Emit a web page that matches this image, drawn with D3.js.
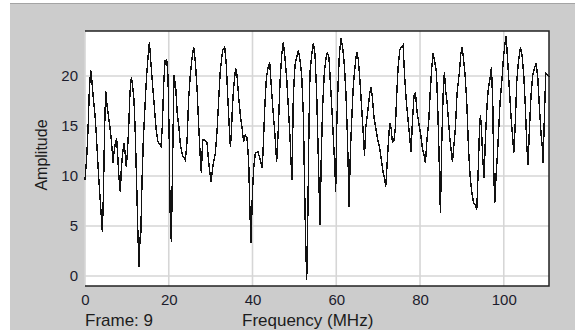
<!DOCTYPE html>
<html>
<head>
<meta charset="utf-8">
<script src="https://cdn.jsdelivr.net/npm/d3@7"></script>
<style>
  html, body { margin: 0; padding: 0; background: #ffffff; }
  svg { display: block; }
</style>
</head>
<body>
<div id="chart"></div>
<script>
// frequency samples (MHz)
const freq = [
  0, 0.40, 0.72, 1.04, 1.35, 1.67, 1.99, 2.39, 2.71, 3.03, 3.34, 3.66, 3.98, 4.14, 4.38, 4.70, 4.94,
  5.25, 5.57, 5.89, 6.21, 6.53, 6.69, 6.93, 7.25, 7.56, 7.80, 8.12, 8.44, 8.68, 9.00, 9.32, 9.63,
  9.87, 10.11, 10.43, 10.75, 11.07, 11.39, 11.70, 12.02, 12.34, 12.66, 12.90, 13.14, 13.30, 13.61,
  13.93, 14.33, 14.65, 14.97, 15.37, 15.76, 16.16, 16.56, 16.96, 17.36, 17.75, 18.15, 18.47, 18.79,
  19.11, 19.51, 19.82, 20.14, 20.30, 20.62, 20.94, 21.26, 21.66, 22.05, 22.37, 22.77, 23.24, 23.96,
  24.36, 24.76, 25.15, 25.55, 25.95, 26.35, 26.75, 27.14, 27.54, 27.78, 28.10, 28.50, 29.14, 29.53,
  30.09, 30.57, 31.13, 31.52, 31.92, 32.32, 32.88, 33.36, 33.75, 34.07, 34.39, 34.71, 34.95, 35.19,
  35.50, 35.98, 36.30, 36.70, 37.10, 37.50, 37.89, 38.29, 38.69, 39.09, 39.41, 39.65, 39.96, 40.28,
  40.68, 41.32, 41.87, 42.35, 42.67, 42.99, 43.31, 43.71, 44.10, 44.58, 44.98, 45.37, 45.77, 46.17,
  46.57, 46.97, 47.36, 47.76, 48.16, 48.56, 48.96, 49.20, 49.43, 49.75, 50.15, 50.55, 50.95, 51.35,
  51.74, 52.14, 52.38, 52.62, 52.94, 53.18, 53.50, 53.73, 54.13, 54.53, 54.93, 55.33, 55.72, 56.12,
  56.44, 56.76, 57.16, 57.56, 57.87, 58.27, 58.67, 59.07, 59.31, 59.71, 59.86, 60.10, 60.42, 60.74,
  61.14, 61.54, 61.93, 62.33, 62.65, 62.89, 63.05, 63.37, 63.77, 64.08, 64.56, 64.88, 65.28, 65.68,
  66.07, 66.47, 66.75, 67.04, 67.51, 67.99, 68.31, 68.63, 69.03, 69.43, 69.82, 70.22, 70.54, 70.86,
  71.18, 71.58, 71.81, 72.13, 72.45, 72.77, 73.09, 73.41, 73.80, 74.12, 74.44, 74.76, 75.16, 75.56,
  75.95, 76.35, 76.75, 77.15, 77.55, 77.86, 78.18, 78.58, 78.90, 79.30, 79.78, 80.17, 80.57, 81.05,
  81.29, 81.69, 82.08, 82.40, 82.80, 83.12, 83.52, 83.92, 84.23, 84.55, 84.87, 85.19, 85.51, 85.83,
  86.15, 86.46, 86.78, 87.10, 87.50, 87.74, 88.06, 88.45, 88.85, 89.41, 89.72, 90.04, 90.36, 90.76,
  91.16, 91.56, 91.95, 92.35, 92.75, 93.15, 93.55, 93.86, 94.18, 94.42, 94.66, 94.98, 95.30, 95.62,
  96.01, 96.33, 96.73, 97.05, 97.37, 97.61, 97.85, 98.16, 98.48, 98.80, 99.12, 99.52, 99.92, 100.23,
  100.55, 100.95, 101.35, 101.75, 102.14, 102.38, 102.70, 103.10, 103.50, 103.98, 104.37, 104.77,
  105.17, 105.49, 105.81, 106.13, 106.52, 106.92, 107.32, 107.72, 108.12, 108.52, 108.92, 109.24,
  109.39, 109.71, 110.03, 110.51, 110.80
];

// amplitude at each frequency sample
const amplitude = [
  9.6, 11.8, 14.6, 18.6, 20.6, 19.4, 17.8, 16.1, 14.1, 11.6, 9.4, 7.4, 5.4, 4.4, 7.9, 15.1, 18.5,
  17.1, 16.1, 15.1, 13.9, 12.4, 11.3, 12.4, 13.3, 13.8, 12.1, 9.8, 8.4, 10.8, 12.3, 13.3, 12.1,
  10.9, 12.3, 14.8, 18.4, 19.9, 18.9, 17.6, 14.1, 9.1, 3.8, 0.9, 3.8, 3.8, 9.4,
  13.6, 17.0, 19.6, 21.5, 23.4, 21.2, 19.0, 16.9, 14.8, 13.5, 13.2, 13.0, 15.0, 19.2,
  21.5, 21.6, 20.0, 13.0, 6.8, 3.4, 12.1, 20.1, 18.9, 16.1, 15.1, 13.1, 12.1, 11.6,
  13.4, 17.8, 20.1, 21.8, 22.9, 21.4, 18.8, 15.1, 11.8, 10.3, 13.6, 13.6, 13.3, 11.4,
  9.4, 11.1, 12.3, 14.4, 17.6, 20.6, 22.6, 22.9, 21.1, 18.1, 15.4, 12.9, 14.3, 16.8,
  18.9, 20.8, 20.1, 17.8, 16.1, 14.8, 13.4, 14.1, 13.8, 11.4, 6.1, 3.3, 8.1, 10.8,
  12.3, 12.4, 11.6, 10.8, 14.1, 17.4, 19.8, 20.8, 21.4, 18.4, 16.1, 14.1, 11.4, 14.8,
  19.4, 22.1, 23.4, 21.8, 19.8, 16.8, 13.8, 11.4, 9.6, 18.1, 21.1, 21.9, 22.6, 21.6,
  20.1, 16.1, 10.4, 4.8, -0.4, 5.1, 15.4, 20.4, 22.1, 23.3, 22.1, 18.1, 11.8, 5.1,
  12.3, 17.1, 20.4, 21.8, 22.4, 21.8, 18.8, 15.8, 13.8, 10.4, 8.4, 14.8, 19.1, 22.1,
  23.8, 22.8, 21.1, 18.1, 14.1, 10.4, 6.9, 12.4, 16.4, 19.1, 21.3, 22.4, 21.6, 19.4,
  16.8, 14.1, 12.0, 14.8, 16.4, 18.3, 18.9, 17.8, 15.8, 14.8, 13.8, 13.1, 12.3, 11.3,
  10.4, 9.6, 8.9, 11.1, 13.4, 15.3, 14.8, 13.4, 13.6, 14.9, 18.1, 20.8, 22.6, 22.9,
  23.1, 19.8, 17.3, 15.6, 13.8, 12.4, 15.4, 18.1, 18.3, 16.4, 15.1, 14.1, 12.8, 11.9,
  11.3, 13.8, 15.4, 18.1, 20.8, 22.3, 21.4, 20.4, 16.8, 12.1, 6.3, 13.3, 18.1, 20.4,
  18.4, 17.4, 15.6, 13.9, 12.3, 11.4, 12.9, 14.8, 18.3, 20.4, 22.1, 22.9, 21.8, 20.1,
  17.4, 12.9, 10.1, 8.4, 7.4, 7.1, 6.6, 10.1, 14.4, 16.1, 14.8, 11.8, 9.8, 13.8,
  17.1, 18.8, 19.8, 20.9, 17.4, 10.4, 7.3, 10.1, 12.1, 14.8, 17.4, 19.4, 21.8, 23.0,
  24.0, 21.4, 18.6, 15.8, 13.8, 12.3, 14.8, 19.4, 21.4, 22.9, 22.1, 20.1,
  16.8, 13.1, 11.1, 14.8, 18.1, 20.1, 20.8, 21.3, 19.8, 16.8, 14.1, 12.8,
  11.3, 16.1, 20.3, 20.1, 19.9
];

const xTicks = [0, 20, 40, 60, 80, 100];
const yTicks = [0, 5, 10, 15, 20];
const frameLabel = 'Frame: 9';
const xTitle = 'Frequency (MHz)';
const yTitle = 'Amplitude';

let width = 575;
let height = 330;
let plot = {left: 85, right: 549, top: 31, bottom: 286};

let svg = d3.select('#chart').append('svg')
  .attr('width', width)
  .attr('height', height)
  .style('font-family', '"Liberation Sans", Arial, sans-serif');

// window background
svg.append('rect')
  .attr('x', 10)
  .attr('y', 3)
  .attr('width', width - 10)
  .attr('height', height - 3)
  .attr('fill', '#cccccc');

svg.append('line')
  .attr('x1', 10).attr('x2', width)
  .attr('y1', 3.5).attr('y2', 3.5)
  .attr('stroke', '#a4a4a4');

let x = d3.scaleLinear().domain([0, 110.8]).range([plot.left, plot.right]);
let y = d3.scaleLinear().domain([-1, 24.5]).range([plot.bottom, plot.top]);

// plot area
svg.append('rect')
  .attr('x', plot.left)
  .attr('y', plot.top)
  .attr('width', plot.right - plot.left)
  .attr('height', plot.bottom - plot.top)
  .attr('fill', '#ffffff');

// grid
let grid = svg.append('g').attr('class', 'grid');
grid.selectAll('line.gx')
  .data(xTicks)
  .enter().append('line')
    .attr('class', 'gx')
    .attr('x1', d => x(d)).attr('x2', d => x(d))
    .attr('y1', plot.top).attr('y2', plot.bottom)
    .attr('stroke', '#d6d6d6')
    .attr('stroke-width', 1.6);
grid.selectAll('line.gy')
  .data(yTicks)
  .enter().append('line')
    .attr('class', 'gy')
    .attr('x1', plot.left).attr('x2', plot.right)
    .attr('y1', d => y(d)).attr('y2', d => y(d))
    .attr('stroke', '#d6d6d6')
    .attr('stroke-width', 1.6);

// trace
let data = freq.map((f, i) => ({f: f, a: amplitude[i]}));
let line = d3.line()
  .x(d => x(d.f))
  .y(d => y(d.a));

svg.append('path')
  .datum(data)
  .attr('d', line)
  .attr('fill', 'none')
  .attr('stroke', '#111111')
  .attr('stroke-width', 1.4)
  .attr('shape-rendering', 'crispEdges');

// frame border (top, right, bottom)
svg.append('path')
  .attr('d', 'M' + plot.left + ',' + plot.top + 'H' + plot.right + 'V' + plot.bottom + 'H' + plot.left)
  .attr('fill', 'none')
  .attr('stroke', '#222222')
  .attr('stroke-width', 1.5);

// tick labels
let xAxis = d3.axisBottom(x).tickValues(xTicks).tickSize(0).tickPadding(8);
svg.append('g')
  .attr('class', 'axis axis--x')
  .attr('transform', 'translate(0,' + plot.bottom + ')')
  .call(xAxis)
  .call(g => g.select('.domain').remove())
  .selectAll('text')
    .attr('font-size', '15px')
    .attr('fill', '#1c1c2c')
    .style('font-family', '"Liberation Sans", Arial, sans-serif');

let yAxis = d3.axisLeft(y).tickValues(yTicks).tickSize(0).tickPadding(7);
svg.append('g')
  .attr('class', 'axis axis--y')
  .attr('transform', 'translate(' + plot.left + ',0)')
  .call(yAxis)
  .call(g => g.select('.domain').remove())
  .selectAll('text')
    .attr('font-size', '15px')
    .attr('fill', '#1c1c2c')
    .style('font-family', '"Liberation Sans", Arial, sans-serif');

// titles
svg.append('text')
  .attr('x', 85)
  .attr('y', 326)
  .attr('font-size', '17px')
  .attr('fill', '#1c1c1c')
  .text(frameLabel);

svg.append('text')
  .attr('x', 242)
  .attr('y', 326)
  .attr('font-size', '17px')
  .attr('fill', '#1c1c1c')
  .text(xTitle);

svg.append('text')
  .attr('transform', 'translate(47,155) rotate(-90)')
  .attr('text-anchor', 'middle')
  .attr('font-size', '16px')
  .attr('fill', '#1c1c1c')
  .text(yTitle);
</script>
</body>
</html>
